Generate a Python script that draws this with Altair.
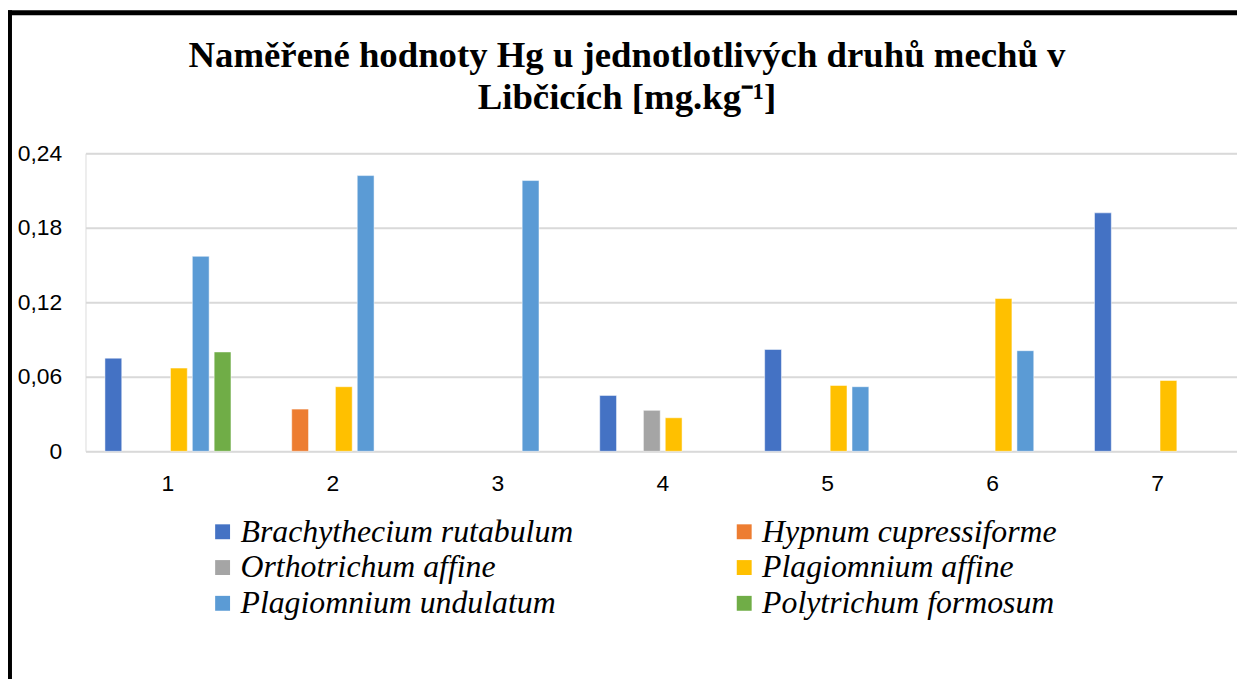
import altair as alt
import pandas as pd

sites = ["1", "2", "3", "4", "5", "6", "7"]
species = [
    "Brachythecium rutabulum",
    "Hypnum cupressiforme",
    "Orthotrichum affine",
    "Plagiomnium affine",
    "Plagiomnium undulatum",
    "Polytrichum formosum",
]
colors = ["#4472C4", "#ED7D31", "#A5A5A5", "#FFC000", "#5B9BD5", "#70AD47"]
# legend is filled column by column: left column first, then right column
legend_order = [species[0], species[2], species[4], species[1], species[3], species[5]]

brachythecium = [0.075, None, None, 0.045, 0.082, None, 0.192]
hypnum = [None, 0.034, None, None, None, None, None]
orthotrichum = [None, None, None, 0.033, None, None, None]
plag_affine = [0.067, 0.052, None, 0.027, 0.053, 0.123, 0.057]
plag_undulatum = [0.157, 0.222, 0.218, None, 0.052, 0.081, None]
polytrichum = [0.080, None, None, None, None, None, None]

y_ticks = [0, 0.06, 0.12, 0.18, 0.24]

title_line1 = "Naměřené hodnoty Hg u jednotlotlivých druhů mechů v"
title_line2 = "Libčicích [mg.kg⁻¹]"

series_values = [brachythecium, hypnum, orthotrichum, plag_affine, plag_undulatum, polytrichum]
rows = []
for name, vals in zip(species, series_values):
    for s, v in zip(sites, vals):
        if v is not None:
            rows.append({"site": s, "species": name, "value": v})
df = pd.DataFrame(rows)

bars = alt.Chart(df).mark_bar(stroke="white", strokeWidth=1, strokeOpacity=0.5).encode(
    x=alt.X(
        "site:N",
        scale=alt.Scale(domain=sites, range=[0, 1162], paddingInner=0, paddingOuter=0),
        axis=alt.Axis(
            title=None, labelAngle=0, domain=False, ticks=False, grid=False,
            labelFont="Liberation Sans", labelFontSize=23, labelColor="black",
            labelPadding=21,
        ),
    ),
    xOffset=alt.XOffset(
        "species:N",
        scale=alt.Scale(domain=species, paddingInner=0.23, paddingOuter=0.89),
    ),
    y=alt.Y(
        "value:Q",
        scale=alt.Scale(domain=[0, 0.24], nice=False),
        axis=alt.Axis(
            title=None, values=y_ticks, domain=False, ticks=False,
            labelExpr="datum.value == 0 ? '0' : replace(format(datum.value, '.2f'), '.', ',')",
            labelFont="Liberation Sans", labelFontSize=23, labelColor="black",
            labelPadding=24, gridColor="#D9D9D9", gridWidth=2,
        ),
    ),
    color=alt.Color(
        "species:N",
        scale=alt.Scale(domain=species, range=colors),
        legend=alt.Legend(
            title=None, orient="none", legendX=122, legendY=365, columns=2,
            values=legend_order,
            columnPadding=155, rowPadding=4,
            symbolType="square", symbolSize=225, symbolStrokeWidth=0,
            labelFont="Liberation Serif", labelFontStyle="italic",
            labelFontSize=32, labelColor="black", labelOffset=2, labelLimit=600,
        ),
    ),
)

frame_df = pd.DataFrame({"a": [0]})
left_border = alt.Chart(frame_df).mark_rule(color="black", strokeWidth=5).encode(
    x=alt.value(-76.5), y=alt.value(-144), y2=alt.value(530)
)
top_border = alt.Chart(frame_df).mark_rule(color="black", strokeWidth=5).encode(
    x=alt.value(-78), x2=alt.value(1165), y=alt.value(-141.5)
)

title_style = dict(font="Liberation Serif", fontSize=37, fontWeight="bold", color="black",
                   align="center", baseline="alphabetic")
title1 = alt.Chart(frame_df).mark_text(**title_style).encode(
    x=alt.value(545), y=alt.value(-87), text=alt.value(title_line1)
)
title2 = alt.Chart(frame_df).mark_text(**title_style).encode(
    x=alt.value(545), y=alt.value(-45), text=alt.value(title_line2)
)

chart = alt.layer(bars, left_border, top_border, title1, title2).properties(
    width=1159,
    height=300,
    autosize=alt.AutoSizeParams(type="none"),
    padding={"left": 78, "top": 144, "right": 0, "bottom": 227},
).configure_view(stroke=None).configure(background="white")

chart.save("out.html", embed_options={"renderer": "svg", "actions": False})
